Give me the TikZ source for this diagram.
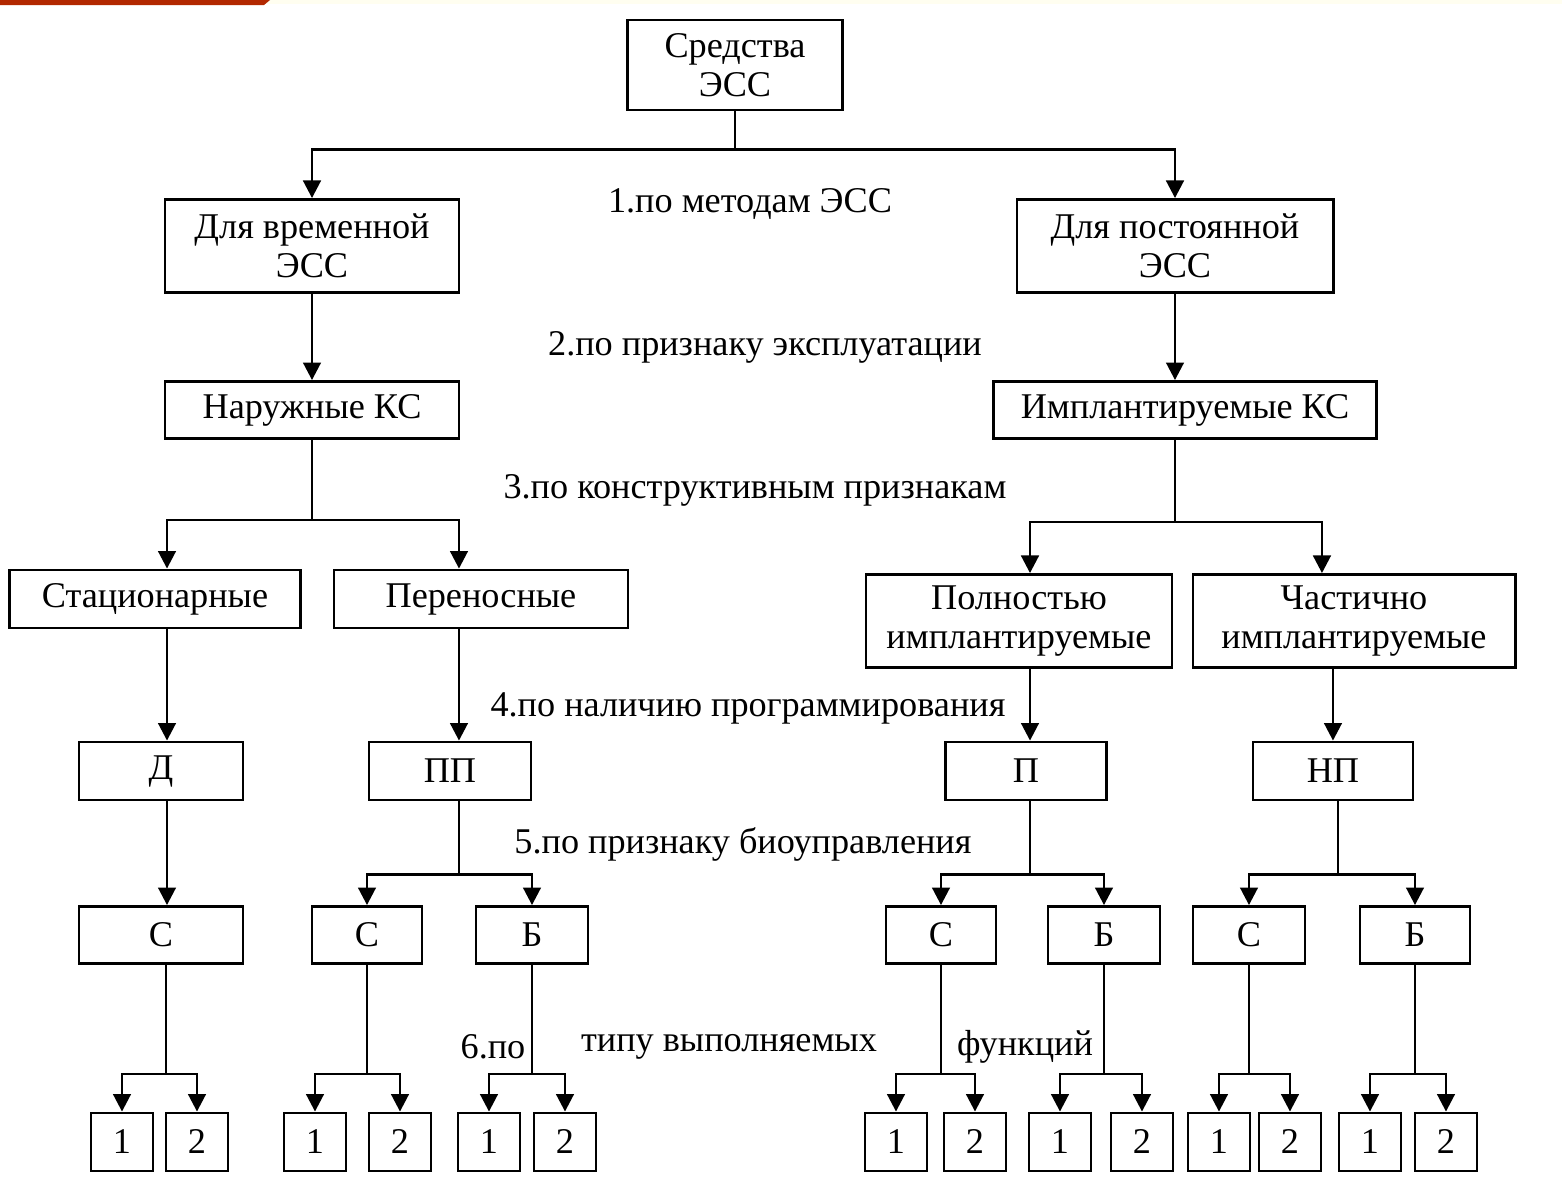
\documentclass[tikz,border=0pt]{standalone}
\usepackage{fontspec}
\setmainfont{Liberation Serif}
\usetikzlibrary{arrows.meta}

\begin{document}
\begin{tikzpicture}[x=0.01cm, y=-0.01cm, every node/.style={font=\fontsize{10.3}{11.2}\selectfont},
  box/.style={draw, line width=0.8pt, inner sep=0pt, align=center},
  arr/.style={-{Triangle[width=5pt,length=5pt]}, line width=0.8pt}]
  \useasboundingbox (0,0) rectangle (1562,1181);
  % top strip
  \fill[black!4!yellow!6] (262,0) rectangle (1562,4);
  \fill[red!55!orange!70!black] (0,0) -- (270,0) -- (264,5) -- (0,5) -- cycle;

  % level 0-2
  \node[box, minimum width=2.15cm, minimum height=0.9cm] (top) at (735,65) {Средства\\ЭСС};
  \node[box, minimum width=2.94cm, minimum height=0.93cm] (vrem) at (312,246) {Для временной\\ЭСС};
  \node[box, minimum width=3.16cm, minimum height=0.93cm] (post) at (1175,246) {Для постоянной\\ЭСС};
  \node[box, minimum width=2.94cm, minimum height=0.57cm] (naruzh) at (312,410) {Наружные КС};
  \node[box, minimum width=3.82cm, minimum height=0.57cm] (impl) at (1185,410) {Имплантируемые КС};

  % level 3
  \node[box, minimum width=2.91cm, minimum height=0.58cm] (stac) at (155,599) {Стационарные};
  \node[box, minimum width=2.94cm, minimum height=0.58cm] (peren) at (481,599) {Переносные};
  \node[box, minimum width=3.06cm, minimum height=0.93cm] (poln) at (1019,621) {Полностью\\имплантируемые};
  \node[box, minimum width=3.22cm, minimum height=0.93cm] (chast) at (1354,621) {Частично\\имплантируемые};

  % level 4
  \node[box, minimum width=1.64cm, minimum height=0.58cm] (pD) at (161,771) {Д};
  \node[box, minimum width=1.62cm, minimum height=0.58cm] (pPP) at (450,771) {ПП};
  \node[box, minimum width=1.61cm, minimum height=0.58cm] (pP) at (1026,771) {П};
  \node[box, minimum width=1.60cm, minimum height=0.58cm] (pNP) at (1333,771) {НП};

  % level 5
  \node[box, minimum width=1.64cm, minimum height=0.57cm] (sA) at (161,935) {С};
  \node[box, minimum width=1.10cm, minimum height=0.57cm] (sB) at (367,935) {С};
  \node[box, minimum width=1.12cm, minimum height=0.57cm] (bB) at (532,935) {Б};
  \node[box, minimum width=1.10cm, minimum height=0.57cm] (sC) at (941,935) {С};
  \node[box, minimum width=1.12cm, minimum height=0.57cm] (bC) at (1104,935) {Б};
  \node[box, minimum width=1.12cm, minimum height=0.57cm] (sD) at (1249,935) {С};
  \node[box, minimum width=1.10cm, minimum height=0.57cm] (bD) at (1415,935) {Б};

  % level 6
  \node[box, minimum width=0.62cm, minimum height=0.58cm] (l1) at (122,1142) {1};
  \node[box, minimum width=0.62cm, minimum height=0.58cm] (l2) at (197,1142) {2};
  \node[box, minimum width=0.62cm, minimum height=0.58cm] (l3) at (315,1142) {1};
  \node[box, minimum width=0.62cm, minimum height=0.58cm] (l4) at (400,1142) {2};
  \node[box, minimum width=0.62cm, minimum height=0.58cm] (l5) at (489,1142) {1};
  \node[box, minimum width=0.62cm, minimum height=0.58cm] (l6) at (565,1142) {2};
  \node[box, minimum width=0.62cm, minimum height=0.58cm] (l7) at (896,1142) {1};
  \node[box, minimum width=0.62cm, minimum height=0.58cm] (l8) at (975,1142) {2};
  \node[box, minimum width=0.62cm, minimum height=0.58cm] (l9) at (1060,1142) {1};
  \node[box, minimum width=0.62cm, minimum height=0.58cm] (l10) at (1142,1142) {2};
  \node[box, minimum width=0.62cm, minimum height=0.58cm] (l11) at (1219,1142) {1};
  \node[box, minimum width=0.62cm, minimum height=0.58cm] (l12) at (1290,1142) {2};
  \node[box, minimum width=0.62cm, minimum height=0.58cm] (l13) at (1370,1142) {1};
  \node[box, minimum width=0.62cm, minimum height=0.58cm] (l14) at (1446,1142) {2};

  % criteria
  \node (lab1) at (750,204) {1.по методам ЭСС};
  \node (lab2) at (765,347) {2.по признаку эксплуатации};
  \node (lab3) at (755,490) {3.по конструктивным признакам};
  \node (lab4) at (748,708) {4.по наличию программирования};
  \node (lab5) at (743,844) {5.по признаку биоуправления};
  \node (lab6a) at (493,1047) {6.по};
  \node (lab6b) at (729,1047) {типу выполняемых};
  \node (lab6c) at (1025,1047) {функций};

  % connectors
  \draw[arr] (top.south) -- ++(0,38) -| (vrem.north);
  \draw[arr] (top.south) -- ++(0,38) -| (post.north);
  \draw[arr] (vrem) -- (naruzh);
  \draw[arr] (post.south) -- (post.south |- impl.north);
  \draw[arr] (naruzh.south) -- ++(0,80) -| ([xshift=0.12cm]stac.north);
  \draw[arr] (naruzh.south) -- ++(0,80) -| ([xshift=-0.22cm]peren.north);
  \draw[arr] (impl.south -| post.south) -- ++(0,82) -| ([xshift=0.11cm]poln.north);
  \draw[arr] (impl.south -| post.south) -- ++(0,82) -| ([xshift=-0.32cm]chast.north);
  \draw[arr] ([xshift=0.12cm]stac.south) -- ([xshift=0.12cm]stac.south |- pD.north);
  \draw[arr] ([xshift=-0.22cm]peren.south) -- ([xshift=-0.22cm]peren.south |- pPP.north);
  \draw[arr] ([xshift=0.11cm]poln.south) -- ([xshift=0.11cm]poln.south |- pP.north);
  \draw[arr] ([xshift=-0.21cm]chast.south) -- ([xshift=-0.21cm]chast.south |- pNP.north);
  \draw[arr] (pD.south -| sA.south) ++(0.06cm,0) -- ([xshift=0.06cm]sA.north);
  \draw[arr] ([xshift=0.09cm]pPP.south) -- ++(0,73) -| (sB.north);
  \draw[arr] ([xshift=0.09cm]pPP.south) -- ++(0,73) -| (bB.north);
  \draw[arr] ([xshift=0.04cm]pP.south) -- ++(0,73) -| (sC.north);
  \draw[arr] ([xshift=0.04cm]pP.south) -- ++(0,73) -| (bC.north);
  \draw[arr] ([xshift=0.05cm]pNP.south) -- ++(0,73) -| (sD.north);
  \draw[arr] ([xshift=0.05cm]pNP.south) -- ++(0,73) -| (bD.north);
  \draw[arr] ([xshift=0.05cm]sA.south) -- ++(0,109) -| (l1.north);
  \draw[arr] ([xshift=0.05cm]sA.south) -- ++(0,109) -| (l2.north);
  \draw[arr] (sB.south) -- ++(0,109) -| (l3.north);
  \draw[arr] (sB.south) -- ++(0,109) -| (l4.north);
  \draw[arr] (bB.south) -- ++(0,109) -| (l5.north);
  \draw[arr] (bB.south) -- ++(0,109) -| (l6.north);
  \draw[arr] (sC.south) -- ++(0,109) -| (l7.north);
  \draw[arr] (sC.south) -- ++(0,109) -| (l8.north);
  \draw[arr] (bC.south) -- ++(0,109) -| (l9.north);
  \draw[arr] (bC.south) -- ++(0,109) -| (l10.north);
  \draw[arr] (sD.south) -- ++(0,109) -| (l11.north);
  \draw[arr] (sD.south) -- ++(0,109) -| (l12.north);
  \draw[arr] (bD.south) -- ++(0,109) -| (l13.north);
  \draw[arr] (bD.south) -- ++(0,109) -| (l14.north);
\end{tikzpicture}
\end{document}
